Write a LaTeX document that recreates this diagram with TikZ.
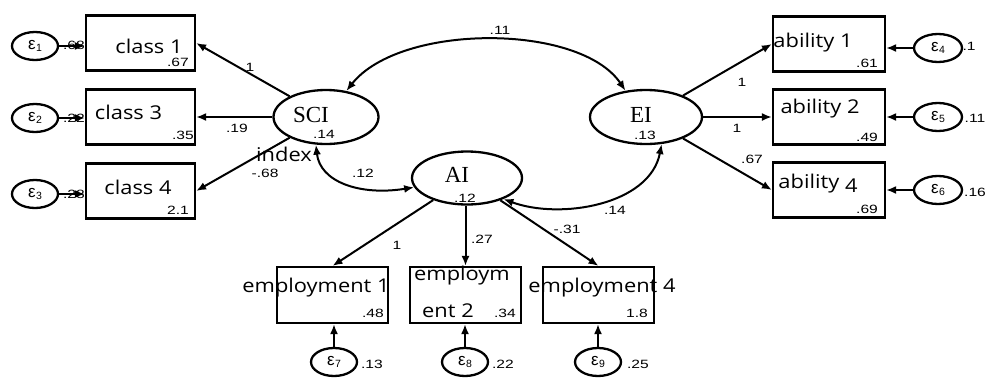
\documentclass[tikz,border=0pt]{standalone}
\usepackage{fontspec}
\setmainfont{Open Sans}[FakeStretch=1.15]
\newfontfamily\numfont{Liberation Sans}[FakeStretch=1.3]
\newfontfamily\latfont{Liberation Serif}
\newfontfamily\epsfont{Liberation Sans}
\usetikzlibrary{arrows.meta,shapes.geometric}
\newcommand\myeps[1]{{\epsfont\fontsize{17}{17}\selectfont ε\kern0.5pt\fontsize{10.5}{10.5}\selectfont\raisebox{-2.5pt}{#1}}}
\begin{document}
\begin{tikzpicture}[x=1pt,y=-1pt,
  obs/.style={draw,line width=2.2pt,minimum width=109pt,minimum height=55pt,inner sep=0},
  lat/.style={draw,ellipse,line width=2.3pt,inner sep=0},
  err/.style={draw,ellipse,line width=2.3pt,minimum width=46pt,minimum height=28pt,inner sep=0},
  txt/.style={inner sep=0,font=\fontsize{19}{19}\selectfont},
  num/.style={inner sep=0,font=\numfont\fontsize{12}{12}\selectfont},
  lt/.style={inner sep=0,font=\latfont\fontsize{23}{23}\selectfont},
  arr/.style={line width=2pt,-{Latex[length=10pt,width=8pt]}},
  darr/.style={line width=2pt,{Latex[length=10pt,width=8pt]}-{Latex[length=10pt,width=8pt]}},
]
\useasboundingbox (0,0) rectangle (986,378);
% observed boxes
\node[obs] (c1) at (140.5,43) {};
\node[obs] (c3) at (140.5,117) {};
\node[obs] (c4) at (140.5,191) {};
\node[obs,minimum width=112pt] (a1) at (829,44) {};
\node[obs,minimum width=112pt] (a2) at (829,117) {};
\node[obs,minimum width=112pt] (a4) at (829,190) {};
\node[obs,minimum width=111pt,minimum height=56pt] (m1) at (332.5,295) {};
\node[obs,minimum width=111pt,minimum height=56pt] (m2) at (465.5,295) {};
\node[obs,minimum width=111pt,minimum height=56pt] (m4) at (598.5,295) {};
% box texts
\node[txt] (tc1) at (149,46) {class 1};
\node[txt] (tc3) at (128.5,112) {class 3};
\node[txt] (tc4) at (138,187) {class 4};
\node[txt] (ta1) at (813,43) {ability 1};
\node[txt] (ta2) at (820,109) {ability 2};
\node[txt] (ta4) at (818,184) {ability \raisebox{-4pt}{4}};
\node[txt] (tm1) at (316,288) {employment 1};
\node[txt] (tm2a) at (462,276) {employm};
\node[txt] (tm2b) at (448,311) {ent 2};
\node[txt] (tm4) at (602,288) {employment 4};
% box numbers
\node[num] (nc1) at (178,62) {.67};
\node[num] (nc3) at (183,135) {.35};
\node[num] (nc4) at (178,210) {2.1};
\node[num] (na1) at (867,63) {.61};
\node[num] (na2) at (867,137) {.49};
\node[num] (na4) at (867,209) {.69};
\node[num] (nm1) at (373,313) {.48};
\node[num] (nm2) at (505,313) {.34};
\node[num] (nm4) at (637,313) {1.8};
% latent
\node[lat,minimum width=105pt,minimum height=54pt] (sci) at (326,117) {};
\node[lat,minimum width=112pt,minimum height=54pt] (ei) at (646,117) {};
\node[lat,minimum width=110pt,minimum height=53pt] (ai) at (467,178) {};
\node[lt] (tsci) at (311,115) {SCI};
\node[num] (nsci) at (324,134) {.14};
\node[lt] (tei) at (641,115) {EI};
\node[num] (nei) at (645,135) {.13};
\node[lt] (tai) at (457,175) {AI};
\node[num] (nai) at (465,198) {.12};
\node[txt] (idx) at (284,154) {index};
% errors
\node[err] (l1) at (35,46) {\myeps{1}};
\node[err] (l2) at (35,118) {\myeps{2}};
\node[err] (l3) at (35,194) {\myeps{3}};
\node[err,minimum width=48pt] (r4) at (938,48) {\myeps{4}};
\node[err,minimum width=48pt] (r5) at (938,117) {\myeps{5}};
\node[err,minimum width=48pt] (r6) at (938,190) {\myeps{6}};
\node[err] (b7) at (334,362) {\myeps{7}};
\node[err] (b8) at (465,362) {\myeps{8}};
\node[err] (b9) at (598,362) {\myeps{9}};
% error variances
\node[num] (vl1) at (74,45) {.68};
\node[num] (vl2) at (74,118) {.22};
\node[num] (vl3) at (74,194) {.28};
\node[num] (vr4) at (969,46) {.1};
\node[num] (vr5) at (975,118) {.11};
\node[num] (vr6) at (975,192) {.16};
\node[num] (vb7) at (372,364) {.13};
\node[num] (vb8) at (503,364) {.22};
\node[num] (vb9) at (638,364) {.25};
% error arrows
\draw[arr] (l1) -- (l1 -| c1.west);
\draw[arr] (l2) -- (l2 -| c3.west);
\draw[arr] (l3) -- (l3 -| c4.west);
\draw[arr] (r4) -- (r4 -| a1.east);
\draw[arr] (r5) -- (r5 -| a2.east);
\draw[arr] (r6) -- (r6 -| a4.east);
\draw[arr] (b7) -- (b7 |- m1.south);
\draw[arr] (b8) -- (b8 |- m2.south);
\draw[arr] (b9) -- (b9 |- m4.south);
% loadings
\draw[arr] (sci) -- (c1.east);
\draw[arr] (sci.west) -- (sci.west -| c3.east);
\draw[arr] (sci) -- (c4.east);
\draw[arr] (ei) -- (a1.west);
\draw[arr] (ei.east) -- (ei.east -| a2.west);
\draw[arr] (ei) -- (a4.west);
\draw[arr] (ai) -- (m1.north);
\draw[arr] (ai.south -| m2.north) -- (m2.north);
\draw[arr] (ai) -- (m4.north);
\node[num] (w1) at (250,67) {1};
\node[num] (w3) at (237,128) {.19};
\node[num] (w4) at (265,173) {-.68};
\node[num] (w5) at (742,82) {1};
\node[num] (w6) at (737,128) {1};
\node[num] (w7) at (752,159) {.67};
\node[num] (w8) at (397,245) {1};
\node[num] (w9) at (482,239) {.27};
\node[num] (w10) at (567,229) {-.31};
% covariances
\draw[darr] (sci.52) .. controls (400,23) and (580,23) .. (ei.128);
\draw[darr] (sci.250) .. controls (320,182) and (360,196) .. (ai.190);
\draw[darr] (ai.330) .. controls (560,220) and (650,205) .. (ei.300);
\node[num] (k1) at (500,30) {.11};
\node[num] (k2) at (363,173) {.12};
\node[num] (k3) at (615,210) {.14};
\end{tikzpicture}
\end{document}
